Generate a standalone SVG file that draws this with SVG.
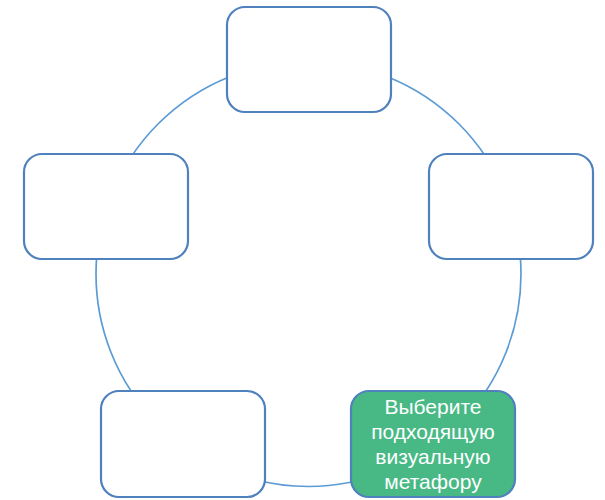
<svg xmlns="http://www.w3.org/2000/svg" width="605" height="500" viewBox="0 0 605 500">
<style>
.box{fill:#ffffff;stroke:#4f81bd;stroke-width:2.2}
.hl{fill:#48b985}
.ring{fill:none;stroke:#5b9bd5;stroke-width:1.7}
.lbl{font-family:"Liberation Sans",Arial,sans-serif;font-size:21px;fill:#ffffff;text-anchor:middle}
</style>
<rect width="605" height="500" fill="#ffffff"/>
<g id="connectors">
<circle class="ring" cx="308.5" cy="274" r="212.5"/>
</g>
<g id="node-top"><rect class="box" x="227" y="7" width="164" height="105" rx="18"/></g>
<g id="node-right"><rect class="box" x="429" y="154" width="164" height="105" rx="18"/></g>
<g id="node-left"><rect class="box" x="24" y="154" width="164" height="105" rx="18"/></g>
<g id="node-bottom-left"><rect class="box" x="101" y="391" width="164" height="106" rx="18"/></g>
<g id="node-bottom-right">
<rect class="box hl" x="351" y="391" width="164" height="106" rx="18"/>
<text class="lbl" x="433" y="414">Выберите</text>
<text class="lbl" x="433" y="439">подходящую</text>
<text class="lbl" x="433" y="464">визуальную</text>
<text class="lbl" x="433" y="489">метафору</text>
</g>
</svg>
